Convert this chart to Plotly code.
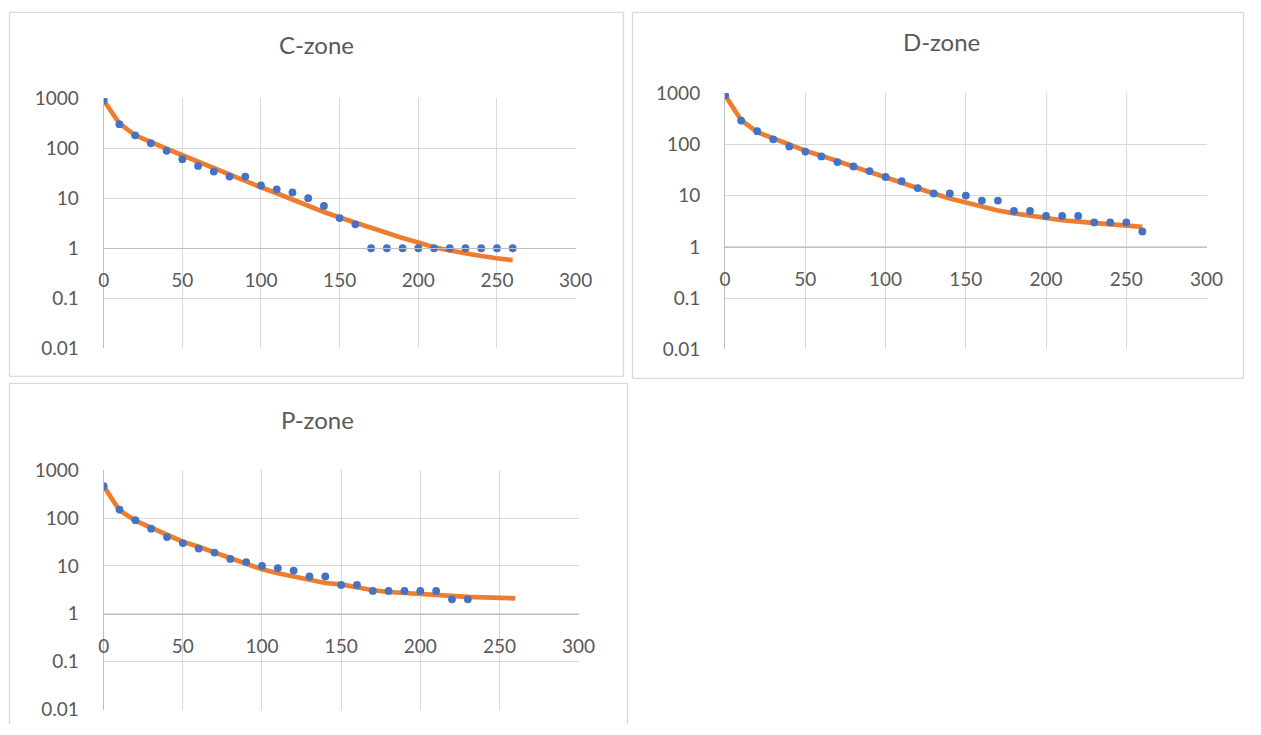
import plotly.graph_objects as go

W, H = 1261, 735

# Measured mapping of this renderer: shown = A * figure_px + B (per axis).
# Target positions (read from the reference) are converted through its inverse.
AX, BX = 0.985, 3.5
AY, BY = 0.971, 10.8

# ---------------- data ----------------
x_vals = [0, 10, 20, 30, 40, 50, 60, 70, 80, 90, 100, 110, 120, 130, 140, 150, 160,
          170, 180, 190, 200, 210, 220, 230, 240, 250, 260]

c_obs = [900, 300, 180, 125, 88, 60, 44, 34, 27, 27, 18, 15, 13, 10, 7, 4, 3,
         1, 1, 1, 1, 1, 1, 1, 1, 1, 1]
c_fit = [900, 310, 180, 130, 97, 72, 53, 40, 30, 22, 16.5, 12.5, 9.3, 7, 5.3, 4.1, 3.2,
         2.5, 2.0, 1.6, 1.3, 1.05, 0.9, 0.78, 0.7, 0.63, 0.58]

d_obs = [900, 290, 180, 125, 91, 72, 58, 45, 37, 30, 23, 19, 14, 11, 11, 10, 8,
         8, 5, 5, 4, 4, 4, 3, 3, 3, 2]
d_fit = [900, 295, 172, 130, 100, 75, 60, 47, 37, 29, 22, 17.5, 14, 11, 8.8, 7.3, 6.0,
         5.1, 4.5, 4.0, 3.6, 3.3, 3.1, 2.9, 2.7, 2.55, 2.45]

p_x_obs = [0, 10, 20, 30, 40, 50, 60, 70, 80, 90, 100, 110, 120, 130, 140, 150, 160,
           170, 180, 190, 200, 210, 220, 230]
p_obs = [460, 150, 90, 60, 40, 30, 23, 19, 14, 12, 10, 9, 8, 6, 6, 4, 4,
         3, 3, 3, 3, 3, 2, 2]
p_fit = [460, 145, 88, 62, 45, 32, 25, 19, 14.5, 10.8, 8.5, 7.0, 5.9, 5.0, 4.4, 4.1, 3.5,
         3.1, 2.85, 2.7, 2.55, 2.45, 2.35, 2.25, 2.2, 2.15, 2.1]

titles = ["C-zone", "D-zone", "P-zone"]
x_ticks = [0, 50, 100, 150, 200, 250, 300]
y_ticks = [0.01, 0.1, 1, 10, 100, 1000]
y_ticktext = ["0.01", "0.1", "1", "10", "100", "1000"]

# ---------------- style ----------------
BLUE = "#4472C4"
ORANGE = "#ED7D31"
GRID = "#d9d9d9"
AXIS = "#bfbfbf"
TEXT = "#595959"
FONT = "Lato"


def px(x):
    f = (x - BX) / AX
    return min(max(f / W, 0.0004), 0.9996)


def py(y):
    f = (y - BY) / AY
    return min(max(1 - f / H, 0.0004), 0.9996)


# plot areas in reference pixels: left, right, top(1000), bottom(0.01)
areas = [
    (101.5, 575, 97, 348),
    (725, 1208, 92, 349),
    (101.5, 578, 470, 710),
]
# panel borders: left, right, top, bottom (None = runs off the page)
borders = [
    (7, 623, 8, 376),
    (632, 1255, 5, 378),
    (7, 627, 383, None),
]
title_pos = [(315, 43), (942, 40), (316, 419)]

series = [
    (x_vals, c_obs, x_vals, c_fit),
    (x_vals, d_obs, x_vals, d_fit),
    (p_x_obs, p_obs, x_vals, p_fit),
]

fig = go.Figure()
layout = dict(
    width=W, height=H,
    margin=dict(l=0, r=0, t=0, b=0),
    paper_bgcolor="white", plot_bgcolor="white",
    showlegend=False,
    font=dict(family=FONT, color=TEXT, size=19),
    shapes=[], annotations=[],
)


def edge(x0, y0, x1, y1):
    return dict(type="line", xref="paper", yref="paper", x0=x0, y0=y0, x1=x1, y1=y1,
                line=dict(color=GRID, width=1.3), layer="below")


for i, ((xo, yo, xf, yf), (l, r, t, b)) in enumerate(zip(series, areas)):
    n = "" if i == 0 else str(i + 1)
    xa, ya = "x" + n, "y" + n
    fig.add_trace(go.Scatter(x=xf, y=yf, mode="lines", xaxis=xa, yaxis=ya,
                             line=dict(color=ORANGE, width=4.7), hoverinfo="skip"))
    fig.add_trace(go.Scatter(x=xo, y=yo, mode="markers", xaxis=xa, yaxis=ya,
                             marker=dict(color=BLUE, size=7.8, line=dict(width=0))))
    ydom = [py(b), py(t)]
    pos = ydom[0] + 0.4 * (ydom[1] - ydom[0])
    layout["xaxis" + n] = dict(
        domain=[px(l), px(r)], range=[0, 300], tickvals=x_ticks,
        showgrid=True, gridcolor=GRID, gridwidth=1.3,
        zeroline=False, showline=True, linecolor=AXIS, linewidth=1.3,
        anchor="free", position=pos, ticks="", ticklabelstandoff=15,
        tickfont=dict(size=19, color=TEXT, family=FONT),
    )
    layout["yaxis" + n] = dict(
        domain=ydom, type="log", range=[-2, 3],
        tickvals=y_ticks, ticktext=y_ticktext,
        showgrid=True, gridcolor=GRID, gridwidth=1.3,
        zeroline=False, showline=True, linecolor=AXIS, linewidth=1.3,
        anchor=xa, ticks="", ticklabelstandoff=20,
        tickfont=dict(size=19, color=TEXT, family=FONT),
    )
    bl, br, bt, bb = borders[i]
    x0, x1, y1 = px(bl), px(br), py(bt)
    y0 = 0.0 if bb is None else py(bb)
    layout["shapes"].append(edge(x0, y1, x1, y1))
    layout["shapes"].append(edge(x0, y0, x0, y1))
    layout["shapes"].append(edge(x1, y0, x1, y1))
    if bb is not None:
        layout["shapes"].append(edge(x0, y0, x1, y0))
    tx, ty = title_pos[i]
    layout["annotations"].append(dict(text=titles[i], xref="paper", yref="paper",
                                      x=px(tx), y=py(ty), showarrow=False,
                                      xanchor="center", yanchor="middle",
                                      font=dict(size=24, color=TEXT, family=FONT)))

fig.update_layout(**layout)
fig.write_html("out.html")
